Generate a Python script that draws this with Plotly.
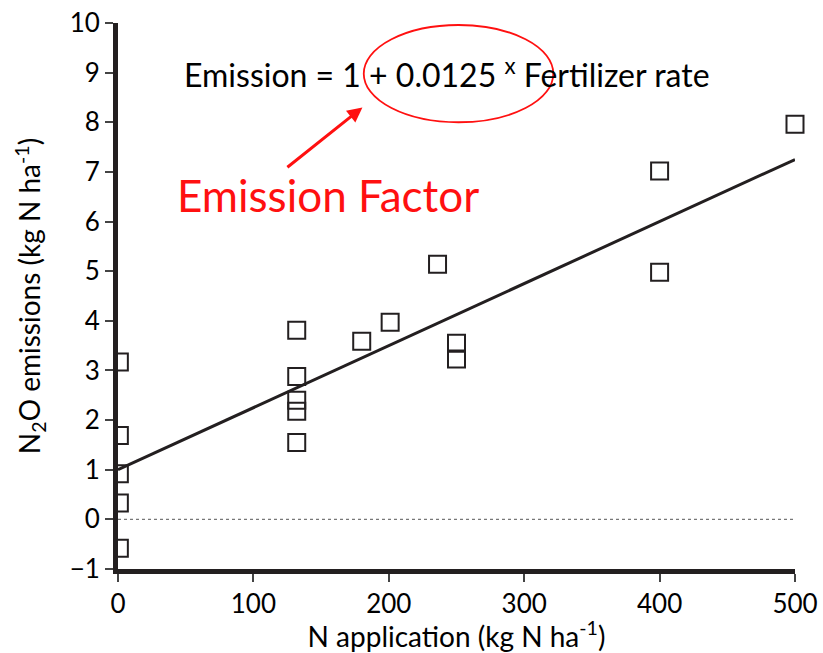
import plotly.graph_objects as go

# Observed N2O emissions versus nitrogen fertilizer rate
# (control plots with no fertilizer sit on the y axis)
ctrl_rate = [1, 1, 1, 1, 1]
ctrl_n2o = [3.17, 1.69, 0.92, 0.33, -0.58]

n_rate = [132, 132, 132, 132, 132,
          180, 201, 236, 250, 250,
          400, 400, 500]
n2o = [3.81, 2.88, 2.40, 2.18, 1.55,
       3.59, 3.97, 5.14, 3.55, 3.23,
       7.02, 4.98, 7.96]

# Regression line: Emission = intercept + slope * fertilizer rate
intercept = 1.0
slope = 0.0125
fit_x = [0, 500]
fit_y = [intercept + slope * v for v in fit_x]

x_ticks = [0, 100, 200, 300, 400, 500]
y_ticks = list(range(-1, 11))

FONT = "Lato, 'Open Sans', sans-serif"
INK = "#231f20"
RED = "#ff1010"

marker_style = dict(symbol="square-open", size=17, color=INK,
                    line=dict(width=2, color=INK))

fig = go.Figure()

# zero reference line
fig.add_trace(go.Scatter(
    x=[0, 500], y=[0, 0], mode="lines",
    line=dict(color="#777777", width=1.3, dash="dot"),
    hoverinfo="skip", showlegend=False))

fig.add_trace(go.Scatter(
    x=fit_x, y=fit_y, mode="lines",
    line=dict(color=INK, width=3),
    showlegend=False))

# control points are clipped by the plot area, so only their right half shows
fig.add_trace(go.Scatter(
    x=ctrl_rate, y=ctrl_n2o, mode="markers",
    marker=marker_style, cliponaxis=True, showlegend=False))

fig.add_trace(go.Scatter(
    x=n_rate, y=n2o, mode="markers",
    marker=marker_style, cliponaxis=False, showlegend=False))

fig.add_annotation(
    x=243, y=9.0, xref="x", yref="y", showarrow=False,
    text=f"Emission = {intercept:g} + {slope:g} "
         "<sup>x</sup> Fertilizer rate",
    font=dict(family=FONT, size=32, color="black"))

fig.add_annotation(
    x=155, y=6.53, xref="x", yref="y", showarrow=False,
    text="Emission Factor",
    font=dict(family=FONT, size=44, color=RED))

# arrow pointing at the emission factor
fig.add_annotation(
    x=180.5, y=8.3, ax=124, ay=7.07, xref="x", yref="y",
    axref="x", ayref="y", text="", showarrow=True,
    arrowhead=2, arrowsize=1, arrowwidth=3, arrowcolor=RED)

# ellipse around the slope term
fig.add_shape(
    type="circle", xref="x", yref="y",
    x0=181.5, x1=321.5, y0=8.0, y1=9.96,
    line=dict(color=RED, width=1.8))

axis_common = dict(
    showgrid=False, zeroline=False, showline=True,
    linecolor=INK, linewidth=5, ticks="outside",
    ticklen=8, tickwidth=1.5, tickcolor="#444444",
    tickfont=dict(family=FONT, size=26, color="black"),
    layer="above traces", automargin=False)

fig.update_xaxes(
    range=[0, 500], tickvals=x_ticks,
    title=dict(text="N application (kg N ha<sup>-1</sup>)",
               font=dict(family=FONT, size=28, color="black"),
               standoff=4),
    **axis_common)
fig.update_yaxes(
    range=[-1, 10], tickvals=y_ticks,
    title=dict(text="N<sub>2</sub>O emissions (kg N ha<sup>-1</sup>)",
               font=dict(family=FONT, size=28, color="black"),
               standoff=22),
    **axis_common)

fig.update_layout(
    width=823, height=653,
    margin=dict(l=118, r=28, t=23, b=84),
    plot_bgcolor="white", paper_bgcolor="white",
    showlegend=False)

fig.write_html("out.html")
